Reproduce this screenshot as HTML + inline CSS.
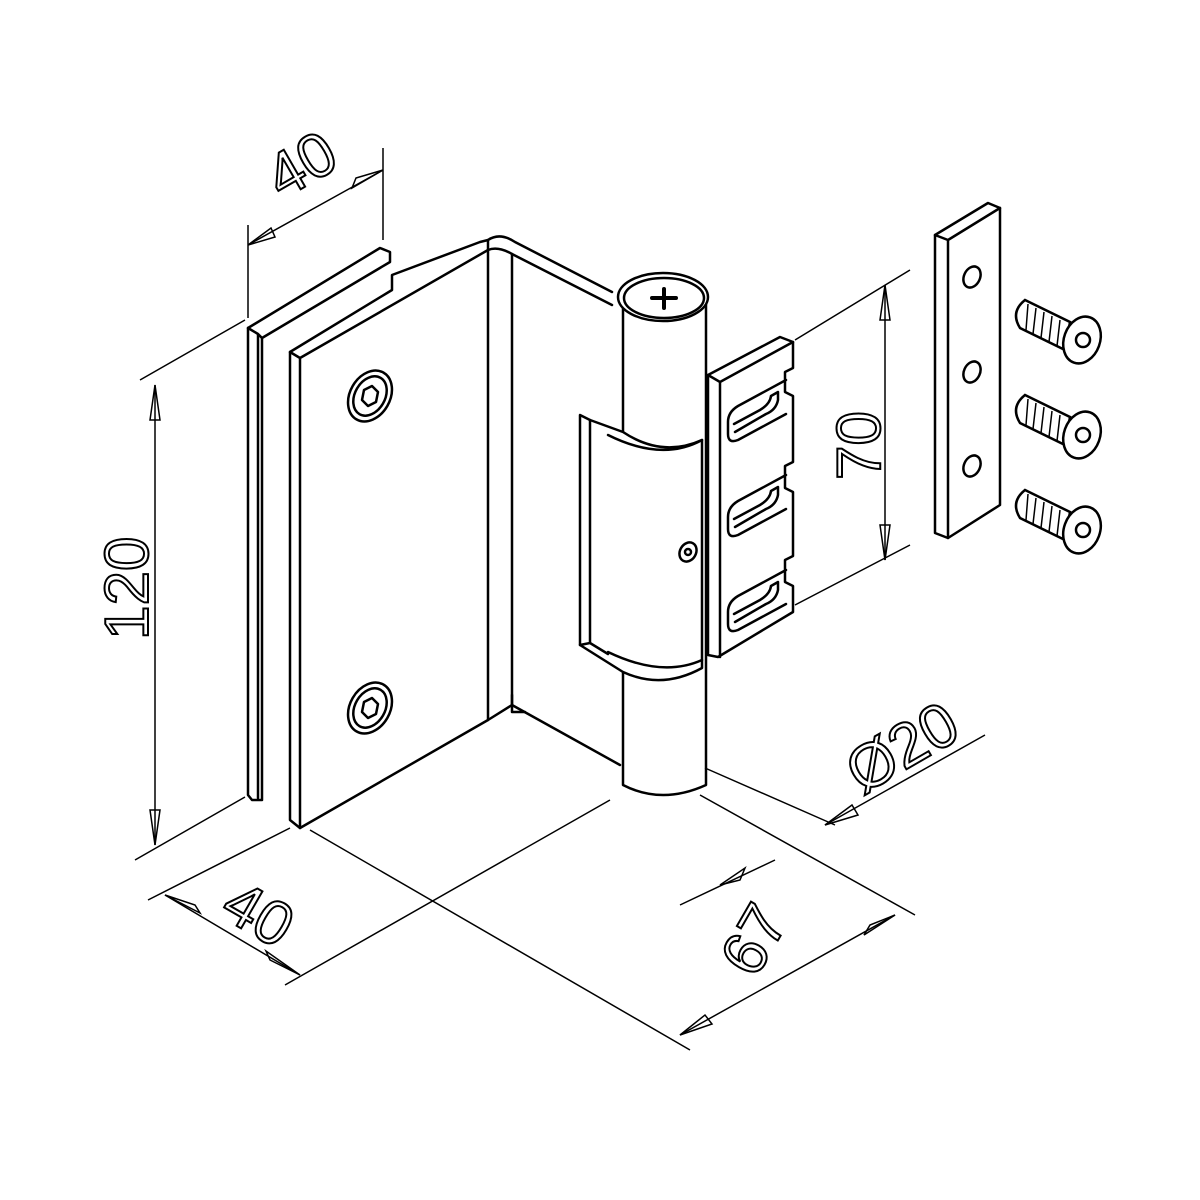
<!DOCTYPE html>
<html><head><meta charset="utf-8"><style>
html,body{margin:0;padding:0;background:#fff}
svg{display:block}
text{font-family:"Liberation Sans",sans-serif;font-size:62px;fill:none;stroke:#000;stroke-width:2}
</style></head><body>
<svg width="1200" height="1200" viewBox="0 0 1200 1200" xmlns="http://www.w3.org/2000/svg">
<g fill="none" stroke="#000" stroke-width="2.5" stroke-linejoin="round" stroke-linecap="round">
<path d="M248,328 L380,248 L390,252 L390,262 L262,338 L262,800 L252,800 L248,795 Z" fill="#fff"/>
<path d="M248,328 L258,334 L262,338 M258,334 L258,798"/>
<path d="M290,352 L392,290 L392,275 L480,242 L488,240 L488,720 L300,828 L290,820 Z" fill="#fff"/>
<path d="M290,352 L300,358 L300,828 M300,358 L488,250"/>
<path d="M488,240 Q500,232 515,242 L612,292"/>
<path d="M488,250 Q498,246 512,254 L612,305"/>
<path d="M512,254 L512,705"/>
<path d="M488,720 L512,705 L620,765"/>
<path d="M512,695 L512,712 M512,712 L525,712"/>
<ellipse cx="370" cy="396" rx="20" ry="27" transform="rotate(30 370 396)"/>
<ellipse cx="370" cy="396" rx="15" ry="21" transform="rotate(30 370 396)"/>
<path d="M364,390 L372,386 L378,392 L376,402 L368,406 L362,400 Z"/>
<ellipse cx="370" cy="708" rx="20" ry="27" transform="rotate(30 370 708)"/>
<ellipse cx="370" cy="708" rx="15" ry="21" transform="rotate(30 370 708)"/>
<path d="M364,702 L372,698 L378,704 L376,714 L368,718 L362,712 Z"/>
<path d="M623,300 L623,785 Q662,805 706,785 L706,300" fill="#fff"/>
<ellipse cx="663" cy="297" rx="45" ry="24" fill="#fff"/>
<ellipse cx="664" cy="298" rx="40" ry="20"/>
<path d="M652,298 L676,298 M664,289 L664,308" stroke-width="4"/>
<path d="M580,415 L580,645 L623,672 Q662,690 702,668 L702,440 Q662,458 623,432 L590,420 Z" fill="#fff"/>
<path d="M590,420 L590,643 L580,645 M590,643 L608,654"/>
<path d="M608,435 Q662,462 702,440"/>
<path d="M608,652 Q662,678 702,660"/>
<ellipse cx="688" cy="552" rx="8" ry="10" transform="rotate(30 688 552)"/>
<circle cx="688" cy="552" r="3"/>
<path d="M708,375 L780,337 L793,342 L793,368 L785,372 L785,392 L793,396 L793,462 L785,466 L785,488 L793,492 L793,556 L785,560 L785,582 L793,586 L793,612 L718,657 L708,655 Z" fill="#fff"/>
<path d="M708,375 L720,382 L793,342 M720,382 L720,657"/>
<g id="sl"><path d="M786,380 L738,406 Q728,412 728,422 L728,434 Q728,444 738,440 L786,414"/>
<path d="M771,396 L778,392 L778,400 Q776,410 766,414 L735,432 M771,396 Q770,404 760,410 L734,424"/></g>
<use href="#sl" y="95"/>
<use href="#sl" y="190"/>
<path d="M935,235 L988,203 L1000,208 L1000,505 L948,538 L935,533 Z" fill="#fff"/>
<path d="M935,235 L948,240 L1000,208 M948,240 L948,538"/>
<ellipse cx="972" cy="277" rx="8" ry="11" transform="rotate(25 972 277)"/>
<ellipse cx="972" cy="372" rx="8" ry="11" transform="rotate(25 972 372)"/>
<ellipse cx="972" cy="466" rx="8" ry="11" transform="rotate(25 972 466)"/>
</g>
<g fill="none" stroke="#000" stroke-width="2.5">
<g id="s"><path d="M1025,300 L1070,322 L1065,350 L1020,328 Q1010,312 1025,300 Z" fill="#fff"/>
<path d="M1028,304 L1026,330 M1036,308 L1033,334 M1044,312 L1041,338 M1052,316 L1049,342 M1060,320 L1057,346" stroke-width="1.5"/>
<ellipse cx="1082" cy="340" rx="18" ry="24" transform="rotate(20 1082 340)" fill="#fff"/>
<circle cx="1083" cy="340" r="7"/></g>
<use href="#s" y="95"/>
<use href="#s" y="190"/>
</g>
<g fill="none" stroke="#000" stroke-width="1.5">
<path d="M248,318 L248,225 M383,148 L383,240 M248,245 L383,170"/>
<path d="M248,245 L275,237 L271,228 Z M383,170 L356,178 L352,188 Z"/>
<path d="M140,380 L245,320 M135,860 L245,797 M155,385 L155,845"/>
<path d="M155,385 L150,420 L160,420 Z M155,845 L150,810 L160,810 Z"/>
<path d="M148,900 L290,828 M165,895 L300,975 M285,985 L610,800 M310,830 L690,1050"/>
<path d="M165,895 L195,905 L200,913 Z M300,975 L270,960 L266,951 Z"/>
<path d="M700,795 L915,915 M680,1035 L895,915"/>
<path d="M680,1035 L705,1015 L712,1024 Z M895,915 L870,925 L864,935 Z"/>
<path d="M705,768 L835,825 M825,825 L985,735 M680,905 L775,860"/>
<path d="M825,825 L852,805 L858,815 Z M720,885 L745,868 L740,880 Z"/>
<path d="M795,340 L910,270 M795,605 L910,545 M885,285 L885,560"/>
<path d="M885,285 L880,320 L890,320 Z M885,560 L880,525 L890,525 Z"/>
</g>
<text transform="translate(282,200) rotate(-30)">40</text>
<text transform="translate(148,640) rotate(-90)">120</text>
<text transform="translate(218,915) rotate(30)">40</text>
<text transform="translate(755,980) rotate(-60)">67</text>
<text transform="translate(880,480) rotate(-90)">70</text>
<text transform="translate(862,795) rotate(-30)">Ø20</text>
</svg>
</body></html>
